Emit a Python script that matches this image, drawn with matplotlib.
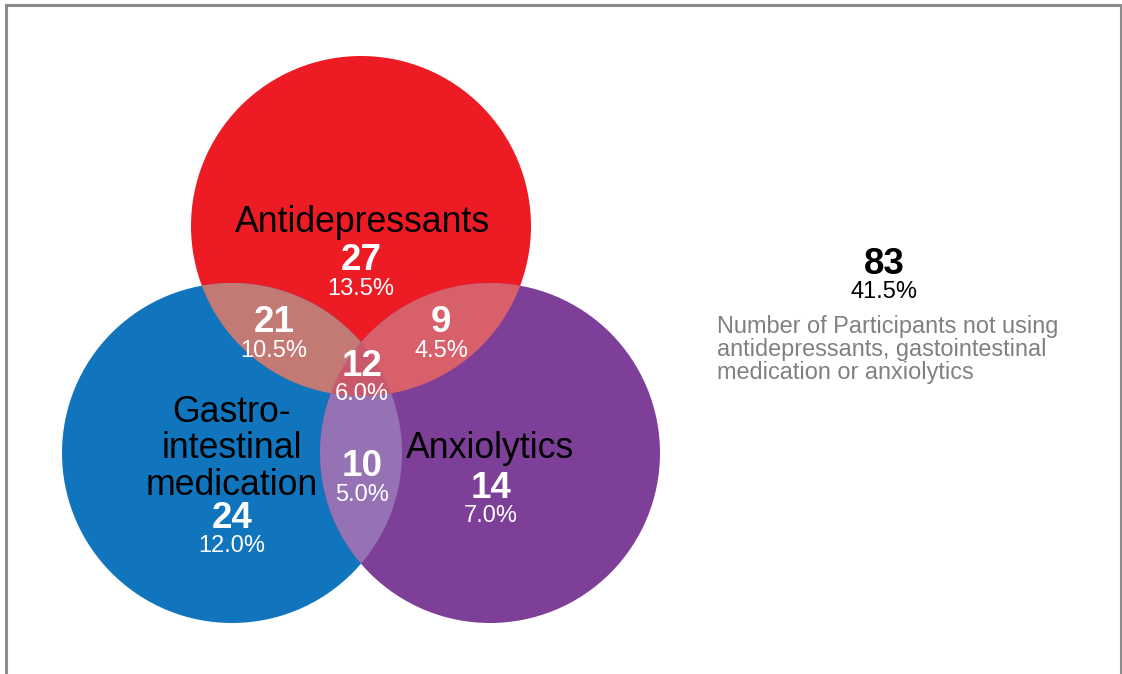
import numpy as np
import matplotlib.pyplot as plt
from matplotlib.patches import Circle, Polygon, Rectangle

plt.rcParams['font.family'] = ['Liberation Sans', 'DejaVu Sans']

# participant counts per Venn region (total sample of 200)
total = 200
sets = ["Antidepressants", "Gastro-\nintestinal\nmedication", "Anxiolytics"]
only_counts = [27, 24, 14]
pair_keys = [(0, 1), (0, 2), (1, 2)]
pair_counts = [21, 9, 10]
triple_count = 12
none_count = 83
none_text = ["Number of Participants not using",
             "antidepressants, gastointestinal",
             "medication or anxiolytics"]

set_colors = ["#ED1C24", "#1075BC", "#7E3F98"]
pair_colors = ["#C47A74", "#D8606A", "#9472B4"]
triple_color = "#C9586B"

# circle geometry in pixel space
centers = np.array([[361, 226], [232, 453], [490, 453]], dtype=float)
radius = 170

fig = plt.figure(figsize=(11.22, 6.74), dpi=100)
ax = fig.add_axes([0, 0, 1, 1])
ax.set_xlim(0, 1122)
ax.set_ylim(674, 0)
ax.set_aspect("equal")
ax.axis("off")


def region_polygon(idx):
    # boundary points of every circle in idx that lie inside all of them
    t = np.linspace(0, 2 * np.pi, 4000, endpoint=False)
    pts = []
    for i in idx:
        p = centers[i] + radius * np.c_[np.cos(t), np.sin(t)]
        ok = np.ones(len(p), bool)
        for j in idx:
            if j != i:
                ok &= np.hypot(*(p - centers[j]).T) <= radius + 1e-6
        pts.append(p[ok])
    pts = np.vstack(pts)
    c = pts.mean(axis=0)
    order = np.argsort(np.arctan2(pts[:, 1] - c[1], pts[:, 0] - c[0]))
    return pts[order]


for i in range(3):
    ax.add_patch(Circle(centers[i], radius, color=set_colors[i], lw=0))
for key, col in zip(pair_keys, pair_colors):
    ax.add_patch(Polygon(region_polygon(key), closed=True, color=col, lw=0))
ax.add_patch(Polygon(region_polygon((0, 1, 2)), closed=True, color=triple_color, lw=0))


def pct(n):
    return f"{n / total * 100:.1f}%"


def count_label(x, y, n, color="white"):
    ax.text(x, y, str(n), ha="center", va="center", fontsize=26.5,
            fontweight="bold", color=color)
    ax.text(x, y + 28, pct(n), ha="center", va="center", fontsize=17,
            color=color)


# set names
ax.text(362, 222, sets[0], ha="center", va="center", fontsize=25.7)
ax.text(232, 449, sets[1], ha="center", va="center", fontsize=25.7,
        linespacing=1.06)
ax.text(490, 449, sets[2], ha="center", va="center", fontsize=25.7)

# counts in each region
count_label(361, 261, only_counts[0])
count_label(232, 518, only_counts[1])
count_label(491, 488, only_counts[2])
count_label(274, 323, pair_counts[0])
count_label(441, 323, pair_counts[1])
count_label(362, 467, pair_counts[2])
count_label(362, 366, triple_count)

# participants outside all three sets
count_label(884, 264, none_count, color="black")
for k, line in enumerate(none_text):
    ax.text(717, 327 + k * 22.5, line, ha="left", va="center",
            fontsize=16.9, color="#808080")

# frame
fig.patches.append(Rectangle((6 / 1122, -0.1), 1115 / 1122, 1 - 5 / 674 + 0.1,
                             transform=fig.transFigure, fill=False,
                             ec="#8C8C8C", lw=2.2))

fig.savefig("out.png", dpi=100)
